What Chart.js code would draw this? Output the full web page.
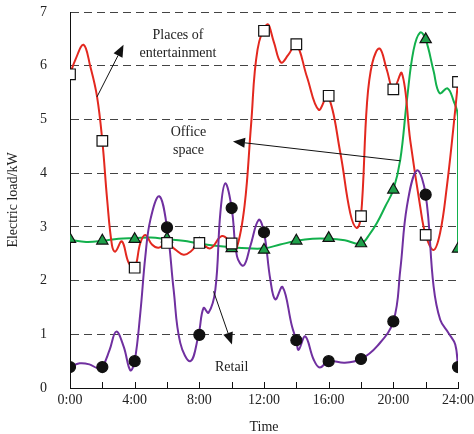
<!DOCTYPE html>
<html>
<head>
<meta charset="utf-8">
<script src="https://cdn.jsdelivr.net/npm/chart.js@4"></script>
<style>
  html, body { margin: 0; padding: 0; background: #fff; }
</style>
</head>
<body>
<canvas id="loadChart" width="474" height="434"></canvas>
<script>
// hourly markers (every 2 h)
const markerHours = [0, 2, 4, 6, 8, 10, 12, 14, 16, 18, 20, 22, 24];
const entertainmentMarks = [5.84, 4.60, 2.24, 2.70, 2.70, 2.69, 6.65, 6.40, 5.44, 3.20, 5.56, 2.85, 5.70];
const officeMarks = [2.77, 2.74, 2.77, 2.78, 2.68, 2.60, 2.57, 2.74, 2.79, 2.69, 3.69, 6.49, 2.59];
const retailMarks = [0.39, 0.39, 0.50, 2.99, 0.99, 3.35, 2.90, 0.89, 0.50, 0.54, 1.24, 3.60, 0.39];

// curves
const entertainmentHours = [0, 0.33, 0.84, 1.26, 1.67, 2.0, 2.3, 2.6, 2.8, 3.21, 3.63, 4.0, 4.35, 4.66, 5.07, 5.48, 6.0, 6.5, 7.03, 7.5, 8.0, 8.68, 9.4, 10.0, 10.3, 10.8, 11.2, 11.6, 12.2, 12.6, 13.05, 13.5, 14.0, 14.65, 15.38, 15.95, 16.72, 17.33, 17.73, 18.0, 18.37, 18.7, 19.15, 19.6, 20.0, 20.53, 21.05, 21.66, 22.0, 22.49, 22.9, 23.31, 23.7, 24.0];
const entertainmentLoad = [5.84, 6.11, 6.39, 5.98, 5.43, 4.60, 3.50, 2.65, 2.54, 2.73, 2.33, 2.24, 2.70, 2.85, 2.67, 2.61, 2.70, 2.58, 2.48, 2.55, 2.70, 2.60, 2.83, 2.69, 2.60, 3.40, 4.90, 6.30, 6.77, 6.45, 6.06, 6.20, 6.40, 5.80, 5.18, 5.44, 4.38, 3.26, 2.98, 3.19, 5.30, 6.05, 6.32, 5.92, 5.56, 5.86, 4.60, 3.38, 2.85, 2.57, 2.90, 3.75, 4.80, 5.70];

const officeHours = [0, 1, 2, 3, 4, 5, 6, 7, 8, 9, 10, 11, 12, 13, 14, 15, 16, 17, 18, 18.57, 19, 19.5, 20, 20.43, 20.84, 21.25, 21.66, 22.0, 22.49, 22.86, 23.35, 23.72, 24, 24];
const officeLoad = [2.76, 2.72, 2.74, 2.78, 2.79, 2.80, 2.77, 2.74, 2.69, 2.65, 2.62, 2.60, 2.60, 2.67, 2.74, 2.78, 2.78, 2.75, 2.69, 2.88, 3.08, 3.38, 3.69, 4.25, 5.36, 6.29, 6.62, 6.49, 5.90, 5.49, 5.58, 5.35, 5.05, 2.59];

const retailHours = [0, 0.6, 1.2, 1.7, 2.0, 2.45, 2.86, 3.32, 3.73, 4.0, 4.35, 4.66, 4.97, 5.52, 6.0, 6.41, 6.82, 7.45, 7.95, 8.26, 8.57, 8.99, 9.3, 9.6, 10.0, 10.33, 10.74, 11.15, 11.67, 12.0, 12.39, 12.7, 13.15, 13.73, 14.0, 14.14, 14.55, 15.07, 15.45, 16.0, 17.0, 18.0, 19.0, 20.0, 20.43, 20.84, 21.46, 22.0, 22.49, 22.9, 23.42, 23.83, 24.0];
const retailLoad = [0.39, 0.46, 0.44, 0.37, 0.39, 0.71, 1.05, 0.77, 0.33, 0.50, 1.40, 2.45, 3.13, 3.57, 2.99, 1.83, 0.84, 0.50, 0.99, 1.49, 1.40, 1.83, 3.26, 3.81, 3.35, 2.45, 2.28, 2.64, 3.13, 2.90, 2.02, 1.65, 1.88, 1.15, 0.89, 0.71, 0.96, 0.53, 0.38, 0.50, 0.47, 0.54, 0.78, 1.24, 2.20, 3.38, 4.05, 3.60, 1.89, 1.27, 1.02, 0.81, 0.39];

const tickHours = [0, 2, 4, 6, 8, 10, 12, 14, 16, 18, 20, 22, 24];

// text labels and arrows, in data units (hour, kW)
const noteTexts = ['Places of', 'entertainment', 'Office', 'space', 'Retail'];
const noteX = [6.68, 6.68, 7.33, 7.33, 10.0];
const noteY = [6.57, 6.23, 4.76, 4.43, 0.39];
const arrowFrom = [[1.67, 5.42], [20.43, 4.23], [8.88, 1.80]];
const arrowTo = [[3.31, 6.39], [10.08, 4.59], [10.02, 0.81]];

const serif = '"Liberation Serif", "Times New Roman", serif';
const pts = (xs, ys) => xs.map((h, i) => ({x: h, y: ys[i]}));

const notesPlugin = {
  id: 'notes',
  afterDatasetsDraw(chart) {
    const {ctx, chartArea, scales: {x, y}} = chart;
    ctx.save();
    ctx.strokeStyle = '#111';
    ctx.lineWidth = 1;
    tickHours.forEach(h => {
      const px = Math.round(x.getPixelForValue(h)) + 0.5;
      ctx.beginPath();
      ctx.moveTo(px, chartArea.bottom);
      ctx.lineTo(px, chartArea.bottom - 6);
      ctx.stroke();
    });

    ctx.font = '14px ' + serif;
    ctx.fillStyle = '#222';
    ctx.textAlign = 'center';
    ctx.textBaseline = 'middle';
    noteTexts.forEach((t, i) => {
      ctx.fillText(t, x.getPixelForValue(noteX[i]), y.getPixelForValue(noteY[i]));
    });

    ctx.fillStyle = '#111';
    arrowFrom.forEach((a, i) => {
      const x1 = x.getPixelForValue(a[0]), y1 = y.getPixelForValue(a[1]);
      const x2 = x.getPixelForValue(arrowTo[i][0]), y2 = y.getPixelForValue(arrowTo[i][1]);
      const ang = Math.atan2(y2 - y1, x2 - x1);
      const len = 12, half = 5;
      const bx = x2 - len * Math.cos(ang), by = y2 - len * Math.sin(ang);
      ctx.beginPath();
      ctx.moveTo(x1, y1);
      ctx.lineTo(bx, by);
      ctx.stroke();
      ctx.beginPath();
      ctx.moveTo(x2, y2);
      ctx.lineTo(bx + half * Math.sin(ang), by - half * Math.cos(ang));
      ctx.lineTo(bx - half * Math.sin(ang), by + half * Math.cos(ang));
      ctx.closePath();
      ctx.fill();
    });
    ctx.restore();
  }
};

const curve = (data, color, order) => ({
  data, borderColor: color, borderWidth: 2, pointRadius: 0, tension: 0.4, fill: false, order
});
const marks = (data, style, radius, fill, order) => ({
  data, showLine: false, pointStyle: style, pointRadius: radius, pointHoverRadius: radius,
  pointBackgroundColor: fill, pointBorderColor: '#111', pointBorderWidth: 1.2, order
});

new Chart(document.getElementById('loadChart'), {
  type: 'line',
  data: {
    datasets: [
      curve(pts(retailHours, retailLoad), '#7030a0', 10),
      curve(pts(entertainmentHours, entertainmentLoad), '#e3281f', 11),
      curve(pts(officeHours, officeLoad), '#12b04c', 12),
      marks(pts(markerHours, retailMarks), 'circle', 5.5, '#111', 1),
      marks(pts(markerHours, entertainmentMarks), 'rect', 7.5, '#fff', 2),
      marks(pts(markerHours, officeMarks), 'triangle', 6.5, '#1ea04a', 3)
    ]
  },
  options: {
    responsive: false,
    animation: false,
    devicePixelRatio: 1,
    layout: { padding: { top: 12, right: 16, left: 0, bottom: 0 } },
    plugins: { legend: { display: false }, tooltip: { enabled: false } },
    scales: {
      x: {
        type: 'linear', min: 0, max: 24,
        afterFit: s => { s.height = 46; },
        grid: { display: true, drawOnChartArea: false, drawTicks: true, tickLength: 4, tickColor: 'rgba(0,0,0,0)' },
        border: { display: true, color: '#111', width: 1 },
        ticks: {
          stepSize: 2, autoSkip: false, maxRotation: 0, padding: 0,
          color: '#222', font: { family: serif, size: 14 },
          callback: v => (v % 4 === 0 ? v + ':00' : '')
        },
        title: { display: true, text: 'Time', color: '#222', font: { family: serif, size: 14, lineHeight: 1 }, padding: 0 }
      },
      y: {
        min: 0, max: 7,
        afterFit: s => { s.width = 70; },
        grid: {
          drawTicks: true, tickLength: 21, tickColor: 'rgba(0,0,0,0)',
          color: c => (c.tick.value === 0 ? 'rgba(0,0,0,0)' : '#444'),
          lineWidth: 1
        },
        border: { display: true, color: '#111', width: 1, dash: [8, 5] },
        ticks: { stepSize: 1, padding: 2, color: '#222', font: { family: serif, size: 14 } },
        title: { display: true, text: 'Electric load/kW', color: '#222', font: { family: serif, size: 14 }, padding: { top: 5 } }
      }
    }
  },
  plugins: [notesPlugin]
});
</script>
</body>
</html>
